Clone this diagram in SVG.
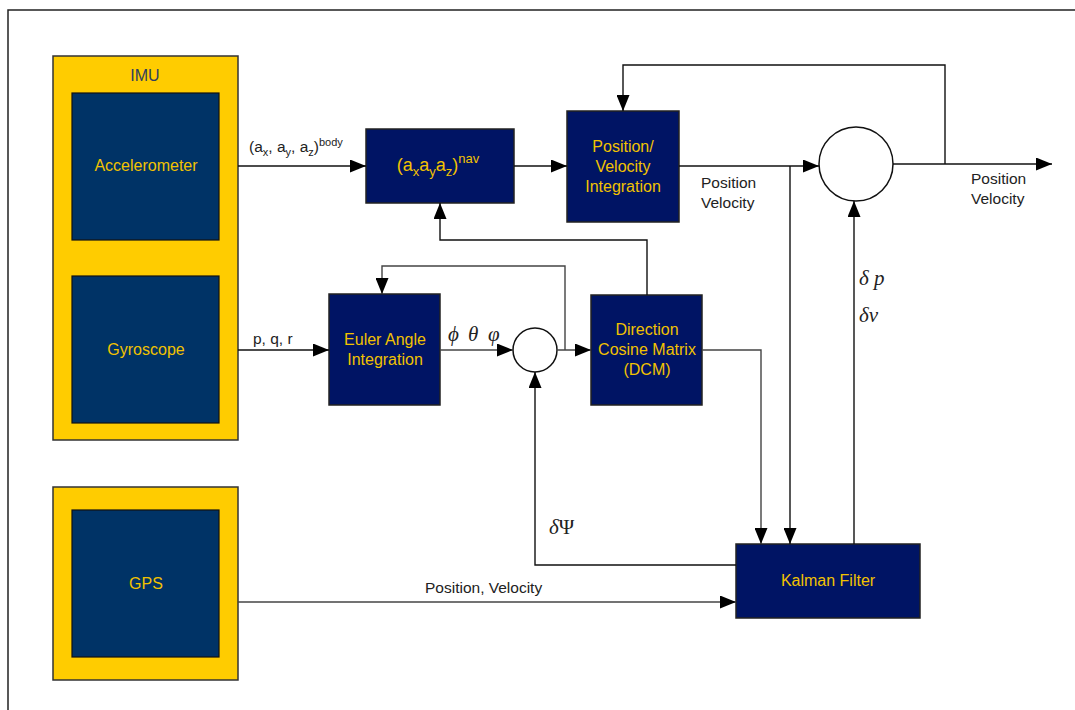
<svg xmlns="http://www.w3.org/2000/svg" width="1075" height="710" viewBox="0 0 1075 710">
<defs>
<style>
.frame{fill:none;stroke:#222;stroke-width:1.5}
.outer{fill:#FFCC00;stroke:#333;stroke-width:1.5}
.inner{fill:#003366;stroke:#111;stroke-width:1.2}
.proc{fill:#001464;stroke:#222;stroke-width:1.5}
.sum{fill:#fff;stroke:#111;stroke-width:1.5}
.ln{fill:none;stroke:#111;stroke-width:1.4}
.lg{fill:none;stroke:#444;stroke-width:1.4}
.arr{marker-end:url(#ah)}
.t{font-family:"Liberation Sans",Arial,sans-serif;font-size:16px;fill:#F2C200;text-anchor:middle}
.tl{font-family:"Liberation Sans",Arial,sans-serif;font-size:15.5px;fill:#222}
.imu{font-family:"Liberation Sans",Arial,sans-serif;font-size:16px;fill:#2F4060;text-anchor:middle}
.m{font-family:"Liberation Serif","Times New Roman",serif;font-size:21px;fill:#222}
</style>
<marker id="ah" viewBox="0 0 10 10" refX="10" refY="5" markerWidth="16" markerHeight="13" markerUnits="userSpaceOnUse" orient="auto" preserveAspectRatio="none">
<path d="M0,0 L10,5 L0,10 z" fill="#000"/>
</marker>
</defs>
<rect width="1075" height="710" fill="#fff"/>
<path class="frame" d="M8,712 L8,10 L1077,10"/>

<g id="imu">
<rect class="outer" x="53" y="56" width="185" height="384"/>
<text class="imu" x="145" y="81">IMU</text>
</g>
<g id="accelerometer">
<rect class="inner" x="72" y="93" width="147" height="147"/>
<text class="t" x="146" y="171">Accelerometer</text>
</g>
<g id="gyroscope">
<rect class="inner" x="72" y="276" width="147" height="147"/>
<text class="t" x="146" y="355">Gyroscope</text>
</g>
<g id="gps">
<rect class="outer" x="53" y="487" width="185" height="193"/>
<rect class="inner" x="72" y="510" width="147" height="147"/>
<text class="t" x="146" y="589">GPS</text>
</g>
<g id="nav">
<rect class="proc" x="366" y="129" width="148" height="74"/>
<text class="t" x="438" y="171" style="font-size:18px">(a<tspan font-size="13" dy="5">x</tspan><tspan dy="-5">a</tspan><tspan font-size="13" dy="5">y</tspan><tspan dy="-5">a</tspan><tspan font-size="13" dy="5">z</tspan><tspan dy="-5">)</tspan><tspan font-size="13" dy="-8">nav</tspan></text>
</g>
<g id="posvel">
<rect class="proc" x="567" y="111" width="112" height="111"/>
<text class="t" x="623" y="152">Position/</text>
<text class="t" x="623" y="172">Velocity</text>
<text class="t" x="623" y="192">Integration</text>
</g>
<g id="sum1">
<circle class="sum" cx="856" cy="164" r="37"/>
</g>
<g id="euler">
<rect class="proc" x="329" y="294" width="111" height="111"/>
<text class="t" x="385" y="345">Euler Angle</text>
<text class="t" x="385" y="365">Integration</text>
</g>
<g id="sum2">
<circle class="sum" cx="535" cy="350" r="22"/>
</g>
<g id="dcm">
<rect class="proc" x="591" y="295" width="111" height="110"/>
<text class="t" x="647" y="335">Direction</text>
<text class="t" x="647" y="355">Cosine Matrix</text>
<text class="t" x="647" y="375">(DCM)</text>
</g>
<g id="kalman">
<rect class="proc" x="736" y="544" width="184" height="74"/>
<text class="t" x="828" y="586">Kalman Filter</text>
</g>

<g id="connectors">
<path class="ln arr" d="M238,166 L366,166"/>
<path class="ln arr" d="M514,166 L567,166"/>
<path class="ln arr" d="M679,166 L819,166"/>
<path class="ln arr" d="M893,164 L1052,164"/>
<path class="ln arr" d="M945,164 L945,65 L623,65 L623,111"/>
<path class="ln arr" d="M790,166 L790,544"/>
<path class="ln arr" d="M238,350 L329,350"/>
<path class="lg arr" d="M440,350 L513,350"/>
<path class="lg arr" d="M557,350 L591,350"/>
<path class="lg arr" d="M565,350 L565,266 L382,266 L382,294"/>
<path class="ln arr" d="M647,295 L647,240 L440,240 L440,203"/>
<path class="lg arr" d="M702,350 L761,350 L761,544"/>
<path class="ln arr" d="M854,544 L854,201"/>
<path class="ln arr" d="M736,565 L535,565 L535,372"/>
<path class="lg arr" d="M238,602 L736,602"/>
</g>

<g id="labels">
<text class="tl" x="249" y="152">(a<tspan font-size="11" dy="4">x</tspan><tspan dy="-4">, a</tspan><tspan font-size="11" dy="4">y</tspan><tspan dy="-4">, a</tspan><tspan font-size="11" dy="4">z</tspan><tspan dy="-4">)</tspan><tspan font-size="11" dy="-6">body</tspan></text>
<text class="tl" x="701" y="188">Position</text>
<text class="tl" x="701" y="208">Velocity</text>
<text class="tl" x="971" y="184">Position</text>
<text class="tl" x="971" y="204">Velocity</text>
<text class="tl" x="253" y="344">p, q, r</text>
<text class="m" x="448" y="341" font-style="italic">ϕ<tspan x="468">θ</tspan><tspan x="488">φ</tspan></text>
<text class="m" x="859" y="285" font-style="italic">δ p</text>
<text class="m" x="859" y="322" font-style="italic">δv</text>
<text class="m" x="549" y="534"><tspan font-style="italic">δ</tspan>Ψ</text>
<text class="tl" x="425" y="593">Position, Velocity</text>
</g>
</svg>
